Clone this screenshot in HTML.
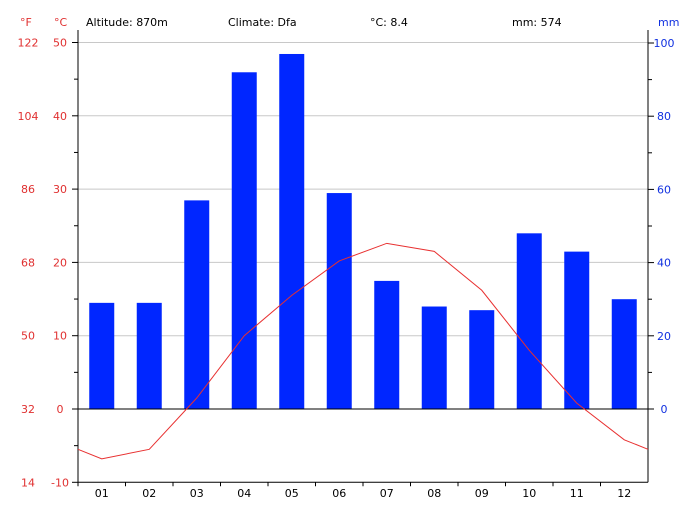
<!DOCTYPE html>
<html><head><meta charset="utf-8"><style>
body{margin:0;background:#fff}
svg text{font-family:"DejaVu Sans","Liberation Sans",sans-serif;font-size:11px}
</style></head><body>
<svg width="700" height="502" id="c" xmlns="http://www.w3.org/2000/svg"></svg>
<script>
const months=["01","02","03","04","05","06","07","08","09","10","11","12"];
const precip=[29,29,57,92,97,59,35,28,27,48,43,30];
const temps=[-6.8,-5.5,1.5,10,15.5,20.2,22.6,21.5,16.2,8,0.8,-4.2];
const cTicks=[50,40,30,20,10,0,-10];
const fTicks=["122","104","86","68","50","32","14"];
const mmTicks=[100,80,60,40,20,0];
const svg=document.getElementById('c');
const NS="http://www.w3.org/2000/svg";
const X0=78,X1=648;
const yC=v=>409-v*7.33;
const yM=v=>409-v*3.66;
const bw=(X1-X0)/12;
const xm=i=>X0+bw*(i+0.5);
function el(t,a,txt){const e=document.createElementNS(NS,t);for(const k in a)e.setAttribute(k,a[k]);if(txt!==undefined)e.textContent=txt;svg.appendChild(e);return e;}
// header
let h;
h=el('text',{x:86,y:26,fill:'#000'},'Altitude: 870m');
h=el('text',{x:228,y:26,fill:'#000'},'Climate: Dfa');
h=el('text',{x:370,y:26,fill:'#000'},'°C: 8.4');
h=el('text',{x:512,y:26,fill:'#000'},'mm: 574');
h=el('text',{x:20,y:26,fill:'#e03030'},'°F');
h=el('text',{x:54,y:26,fill:'#e03030'},'°C');
h=el('text',{x:658,y:26,fill:'#1030e0'},'mm');
// gridlines & left ticks
cTicks.forEach((v,i)=>{const y=yC(v);
 if(v!==0&&v!==-10){const g=el('line',{x1:X0,x2:X1,y1:y,y2:y,stroke:'#c8c8c8'});}
 const t=el('line',{x1:X0-6,x2:X0,y1:y,y2:y,stroke:'#000'});
 const l=el('text',{x:60,y:y+4,fill:'#e03030','text-anchor':'middle'},String(v));
 const f=el('text',{x:28,y:y+4,fill:'#e03030','text-anchor':'middle'},fTicks[i]);
 if(v>-10){const ym=yC(v-5);const m=el('line',{x1:X0-4,x2:X0,y1:ym,y2:ym,stroke:'#000'});}
});
mmTicks.forEach(v=>{const y=yM(v);
 const t=el('line',{x1:X1,x2:X1+6,y1:y,y2:y,stroke:'#000'});
 const l=el('text',{x:664,y:y+4,fill:'#1030e0','text-anchor':'middle'},String(v));
 if(v<100){const ym=yM(v+10);const m=el('line',{x1:X1,x2:X1+4,y1:ym,y2:ym,stroke:'#000'});}
});
// bars
precip.forEach((v,i)=>{const b=el('rect',{x:xm(i)-12.5,y:yM(v),width:25,height:yM(0)-yM(v),fill:'#0026ff'});});
// axes
let a;
a=el('line',{x1:X0,x2:X0,y1:30,y2:yC(-10),stroke:'#000'});
a=el('line',{x1:X1,x2:X1,y1:30,y2:yC(-10),stroke:'#000'});
a=el('line',{x1:X0,x2:X1,y1:yC(0),y2:yC(0),stroke:'#000'});
a=el('line',{x1:X0,x2:X1,y1:yC(-10),y2:yC(-10),stroke:'#000'});
months.forEach((m,i)=>{
 const t=el('line',{x1:X0+bw*i,x2:X0+bw*i,y1:yC(-10),y2:yC(-10)+4,stroke:'#000'});
 const l=el('text',{x:xm(i),y:497,fill:'#000','text-anchor':'middle'},m);
});
// temperature line
const edge=(temps[0]+temps[11])/2;
let pts=[[X0,yC(edge)]];temps.forEach((v,i)=>pts.push([xm(i),yC(v)]));pts.push([X1,yC(edge)]);
const p=el('polyline',{points:pts.map(q=>q.join(',')).join(' '),fill:'none',stroke:'#e83030','stroke-width':1});

</script>
</body></html>
